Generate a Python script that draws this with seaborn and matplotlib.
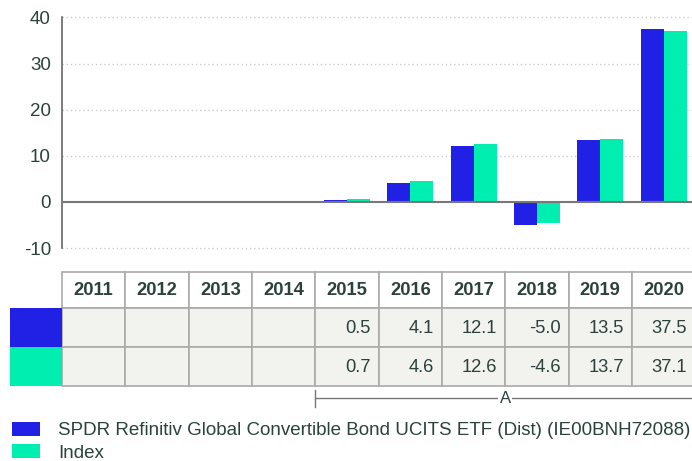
import matplotlib
matplotlib.use("Agg")
import matplotlib.pyplot as plt
import numpy as np
import pandas as pd
import seaborn as sns
from matplotlib.patches import Rectangle

# data
years = ["2011", "2012", "2013", "2014", "2015", "2016", "2017", "2018", "2019", "2020"]
fund_returns = [np.nan, np.nan, np.nan, np.nan, 0.5, 4.1, 12.1, -5.0, 13.5, 37.5]
index_returns = [np.nan, np.nan, np.nan, np.nan, 0.7, 4.6, 12.6, -4.6, 13.7, 37.1]
series_names = ["SPDR Refinitiv Global Convertible Bond UCITS ETF (Dist) (IE00BNH72088)", "Index"]
series_colors = ["#2121E6", "#00EFB0"]
y_ticks = [-10, 0, 10, 20, 30, 40]
period_label = "A"
period_start = "2015"

TEXT = "#2B423C"
GRID = "#AAAAAA"
W, H = 692, 461

plt.rcParams["font.family"] = ["Liberation Sans", "DejaVu Sans"]

fig = plt.figure(figsize=(W / 100, H / 100), dpi=100)


def px_box(left, top, right, bottom):
    return [left / W, 1 - bottom / H, (right - left) / W, (bottom - top) / H]


col_w = 63.33
ax = fig.add_axes(px_box(62, 17.5, 62 + 10 * col_w, 248))

df = pd.DataFrame({
    "year": years * 2,
    "value": fund_returns + index_returns,
    "series": [series_names[0]] * len(years) + [series_names[1]] * len(years),
})
sns.barplot(data=df, x="year", y="value", hue="series", order=years,
            hue_order=series_names, palette=series_colors, saturation=1,
            width=0.73, errorbar=None, linewidth=0, ax=ax)
handles, labels = ax.get_legend_handles_labels()
if ax.get_legend() is not None:
    ax.get_legend().remove()

ax.set_xlim(-0.5, len(years) - 0.5)
ax.set_ylim(y_ticks[0], y_ticks[-1])
ax.set_yticks(y_ticks)
ax.set_yticklabels([str(t) for t in y_ticks], fontsize=13.5, color=TEXT)
ax.tick_params(axis="y", length=0, pad=8)
ax.set_xticks([])
ax.set_xlabel("")
ax.set_ylabel("")
for t in y_ticks:
    if t != 0:
        ax.axhline(t, color="#CCCCCC", lw=1, ls=(0, (1, 2)), zorder=0, clip_on=False)
ax.axhline(0, color="#777777", lw=1.5, zorder=3)
for s in ["top", "right", "bottom"]:
    ax.spines[s].set_visible(False)
ax.spines["left"].set_color("#666666")
ax.spines["left"].set_linewidth(1.2)

# table under the bars, sharing the column positions
sw = 52 / col_w
axt = fig.add_axes(px_box(10, 271.7, 62 + 10 * col_w, 385.7))
axt.set_xlim(-0.5 - sw, len(years) - 0.5)
axt.set_ylim(385.7, 271.7)
axt.axis("off")

rows = [(271.7, 308.0), (308.0, 346.7), (346.7, 385.7)]
for i, yr in enumerate(years):
    top, bot = rows[0]
    axt.add_patch(Rectangle((i - 0.5, top), 1, bot - top, fc="white", ec=GRID, lw=1.2, clip_on=False))
    axt.text(i, (top + bot) / 2 + 1, yr, ha="center", va="center",
             fontsize=13.2, fontweight="bold", color=TEXT)
    for (top, bot), vals in zip(rows[1:], [fund_returns, index_returns]):
        axt.add_patch(Rectangle((i - 0.5, top), 1, bot - top, fc="#F2F2EE", ec=GRID, lw=1.2, clip_on=False))
        if not np.isnan(vals[i]):
            axt.text(i + 0.5 - 8 / col_w, (top + bot) / 2 + 1, f"{vals[i]:.1f}", ha="right",
                     va="center", fontsize=13.2, color=TEXT)
for (top, bot), c in zip(rows[1:], series_colors):
    axt.add_patch(Rectangle((-0.5 - sw, top), sw, bot - top, fc=c, ec="none", clip_on=False))

# period bracket
x0 = years.index(period_start) - 0.5
x1 = len(years) - 0.5
axt.plot([x0, x1], [398, 398], color="#777777", lw=1, clip_on=False)
axt.plot([x0, x0], [390, 407], color="#777777", lw=1, clip_on=False)
axt.text((x0 + x1) / 2, 398, period_label, ha="center", va="center", fontsize=12,
         color=TEXT, bbox=dict(fc="white", ec="none", pad=1), clip_on=False)

fig.legend(handles, labels, loc="upper left", bbox_to_anchor=(12 / W, 1 - 422 / H),
           frameon=False, borderaxespad=0, borderpad=0, fontsize=13.5,
           handlelength=1.5, handleheight=0.75, handletextpad=0.95, labelspacing=0.27,
           labelcolor=TEXT)

fig.savefig("out.png", dpi=100)
